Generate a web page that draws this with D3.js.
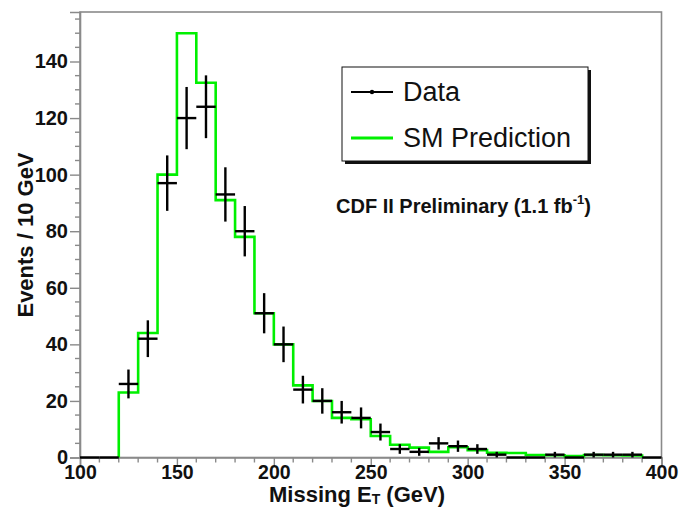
<!DOCTYPE html>
<html><head><meta charset="utf-8">
<script src="https://cdn.jsdelivr.net/npm/d3@7"></script>
<style>
html,body{margin:0;padding:0;background:#fff;}
svg text{font-family:"Liberation Sans",Arial,Helvetica,sans-serif;}
</style></head>
<body>
<svg id="chart" width="679" height="507"></svg>
<script>
// ---- data ----
const binWidth = 10;
const dataBinLow = [100,110,120,130,140,150,160,170,180,190,200,210,220,230,240,250,260,270,280,290,300,310,320,330,340,350,360,370,380,390];
const dataCounts = [0,0,26,42,97,120,124,93,80,51,40,24,20,16,14,9,3,2,5,4,3,1,0,0,1,0,1,1,1,0];
const dataErrors = [0,0,5.1,6.5,9.8,11.0,11.1,9.6,8.9,7.1,6.3,4.9,4.5,4.0,3.7,3.0,1.7,1.4,2.2,2.0,1.7,1.0,0,0,1.0,0,1.0,1.0,1.0,0];
const smBinLow = [120,130,140,150,160,170,180,190,200,210,220,230,240,250,260,270,280,290,300,310,320,330,340,350,360,370,380];
const smValues = [23,44,100,150,132.5,91,78,51,40,25.5,20,14,13.5,7.6,4.5,3.5,2.0,3.6,2.6,1.7,1.6,0.9,0.8,0.5,0.9,0.8,0.7];
const xMajorTicks = [100,150,200,250,300,350,400];
const yMajorTicks = [0,20,40,60,80,100,120,140];
const xDomain = [100,400];
const yDomain = [0,157.5];
const xTitle = "Missing E";
const xTitleSub = "T";
const xTitleTail = " (GeV)";
const yTitle = "Events / 10 GeV";
const legendLabels = ["Data","SM Prediction"];
const noteText = "CDF II Preliminary (1.1 fb";
const noteSup = "-1";

// ---- layout ----
const L = 80, R = 661.5, T = 12, B = 457.5;
const svg = d3.select("#chart");
const x = d3.scaleLinear().domain(xDomain).range([L,R]);
const y = d3.scaleLinear().domain(yDomain).range([B,T]);
const green = "#00f000";
const frameCol = "#8a8a8a";

// frame
svg.append("rect").attr("x",L).attr("y",T).attr("width",R-L).attr("height",B-T)
  .attr("fill","#fff").attr("stroke",frameCol).attr("stroke-width",1.6);

// y axis
const yMinor = d3.range(0,156,5).filter(v=>v%20!==0);
const yAx = d3.axisLeft(y).tickValues(yMajorTicks).tickSize(10).tickPadding(2).tickFormat(d3.format("d"));
const gy = svg.append("g").attr("transform",`translate(${L},0)`).call(yAx);
gy.select(".domain").attr("stroke",frameCol).attr("stroke-width",1.6);
gy.selectAll(".tick line").attr("stroke",frameCol).attr("stroke-width",1.4);
gy.selectAll(".tick text").attr("font-size",20).attr("font-weight","bold").attr("fill","#111")
  .attr("font-family","'Liberation Sans',Arial,sans-serif");
gy.selectAll(".minor").data(yMinor).enter().append("line")
  .attr("x1",-5).attr("x2",0).attr("y1",d=>y(d)).attr("y2",d=>y(d))
  .attr("stroke",frameCol).attr("stroke-width",1.4);

// x axis
const xMinor = d3.range(110,400,10).filter(v=>v%50!==0);
const xAx = d3.axisBottom(x).tickValues(xMajorTicks).tickSize(8).tickPadding(0).tickFormat(d3.format("d"));
const gx = svg.append("g").attr("transform",`translate(0,${B})`).call(xAx);
gx.select(".domain").attr("stroke",frameCol).attr("stroke-width",1.6);
gx.selectAll(".tick line").attr("stroke",frameCol).attr("stroke-width",1.4);
gx.selectAll(".tick text").attr("font-size",19.5).attr("font-weight","bold").attr("fill","#111")
  .attr("font-family","'Liberation Sans',Arial,sans-serif");
gx.selectAll(".minor").data(xMinor).enter().append("line")
  .attr("x1",d=>x(d)).attr("x2",d=>x(d)).attr("y1",0).attr("y2",5)
  .attr("stroke",frameCol).attr("stroke-width",1.4);

// SM prediction step histogram
const stepPts = [[smBinLow[0],0]];
smBinLow.forEach((lo,i)=>{ stepPts.push([lo,smValues[i]]); stepPts.push([lo+binWidth,smValues[i]]); });
stepPts.push([smBinLow[smBinLow.length-1]+binWidth,0]);
svg.append("path")
  .attr("d", d3.line().x(d=>x(d[0])).y(d=>y(d[1]))(stepPts))
  .attr("fill","none").attr("stroke",green).attr("stroke-width",2.6);

// data points with error bars
const gd = svg.append("g").attr("stroke","#000").attr("stroke-width",2.4);
dataBinLow.forEach((lo,i)=>{
  const v = dataCounts[i], e = dataErrors[i];
  gd.append("line").attr("x1",x(lo)).attr("x2",x(lo+binWidth)).attr("y1",y(v)).attr("y2",y(v));
  if (e>0) gd.append("line").attr("x1",x(lo+binWidth/2)).attr("x2",x(lo+binWidth/2)).attr("y1",y(v-e)).attr("y2",y(v+e));
});

// legend
const lg = svg.append("g");
lg.append("rect").attr("x",345).attr("y",70).attr("width",246).attr("height",94).attr("fill","#111");
lg.append("rect").attr("x",342).attr("y",67).attr("width",246).attr("height",94)
  .attr("fill","#fff").attr("stroke","#111").attr("stroke-width",1);
lg.append("line").attr("x1",351).attr("x2",393).attr("y1",92).attr("y2",92).attr("stroke","#000").attr("stroke-width",2);
lg.append("circle").attr("cx",372).attr("cy",92).attr("r",2.2).attr("fill","#000");
lg.append("line").attr("x1",351).attr("x2",393).attr("y1",138).attr("y2",138).attr("stroke",green).attr("stroke-width",3);
lg.selectAll(".lt").data(legendLabels).enter().append("text")
  .attr("x",403).attr("y",(d,i)=>101+i*46).attr("font-size",27).attr("fill","#111").text(d=>d);

// note
const nt = svg.append("text").attr("x",336).attr("y",213).attr("font-size",20).attr("font-weight","bold").attr("fill","#111");
nt.append("tspan").text(noteText);
nt.append("tspan").attr("font-size",13).attr("dy",-9).text(noteSup);
nt.append("tspan").attr("dy",9).text(")");

// axis titles
const xt = svg.append("text").attr("x",357).attr("y",501.5).attr("text-anchor","middle")
  .attr("font-size",22).attr("font-weight","bold").attr("fill","#111");
xt.append("tspan").text(xTitle);
xt.append("tspan").attr("font-size",14).attr("dy",2.5).text(xTitleSub);
xt.append("tspan").attr("dy",-2.5).text(xTitleTail);

svg.append("text").attr("transform","translate(33,235) rotate(-90)").attr("text-anchor","middle")
  .attr("font-size",22).attr("font-weight","bold").attr("fill","#111").text(yTitle);
</script>
</body></html>
